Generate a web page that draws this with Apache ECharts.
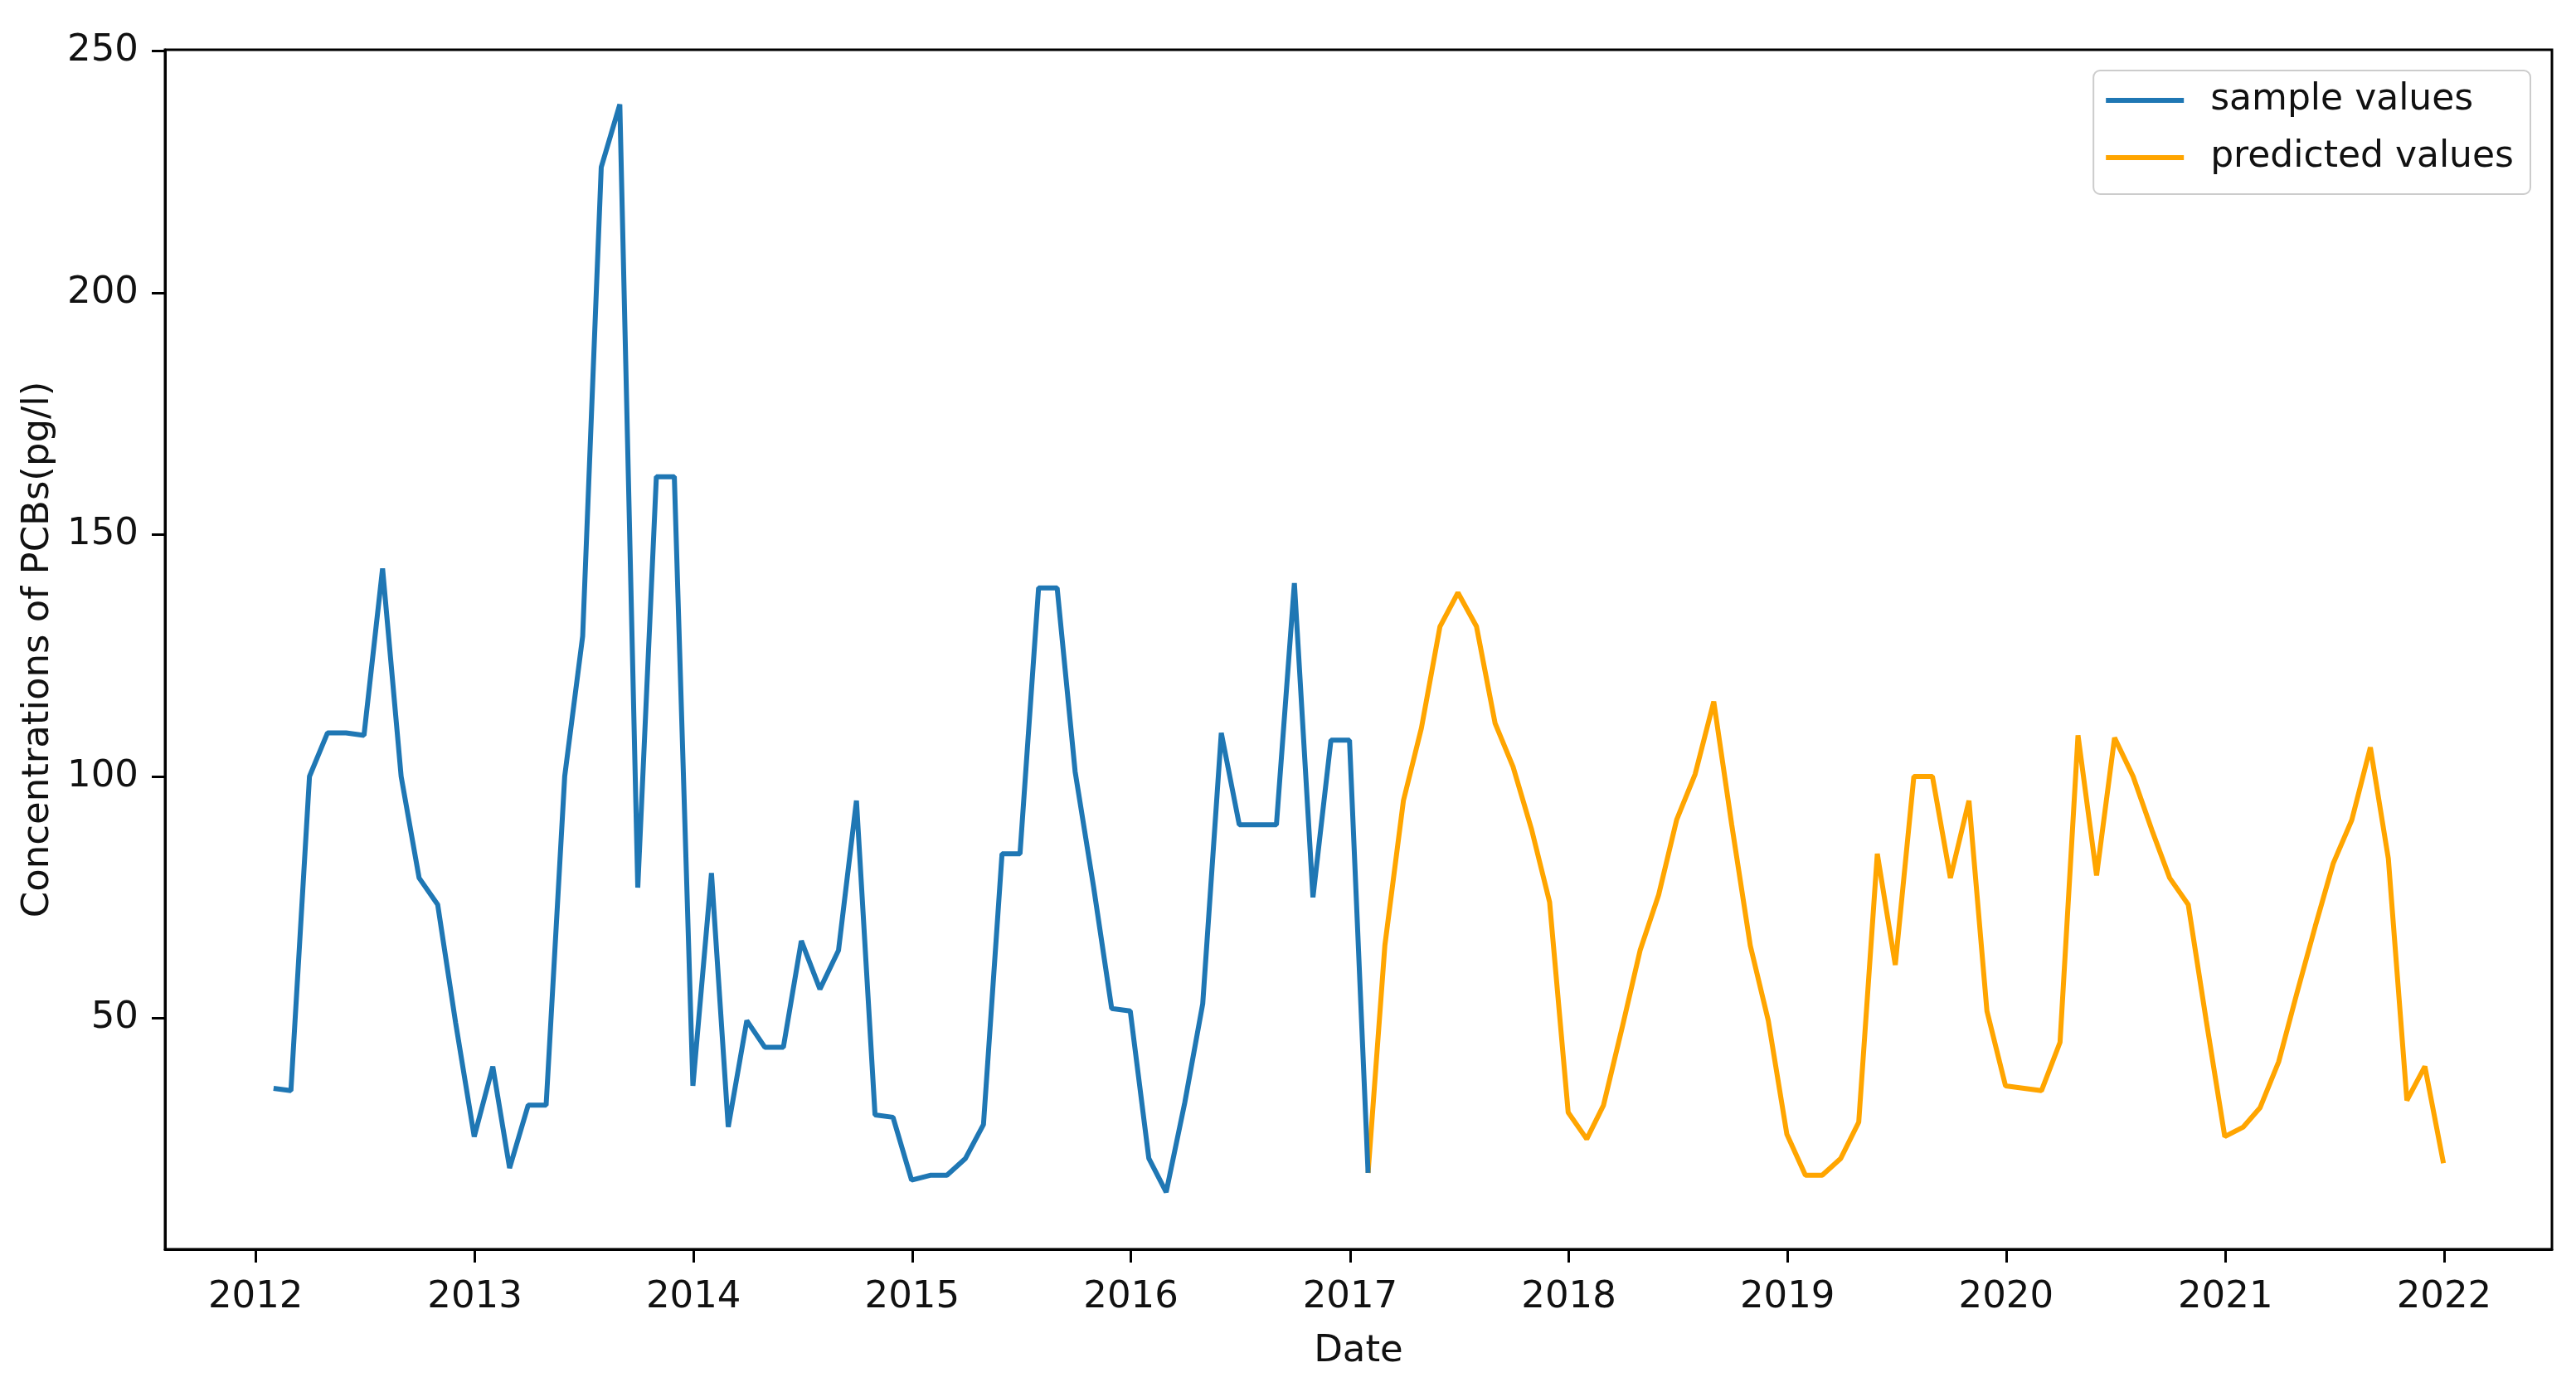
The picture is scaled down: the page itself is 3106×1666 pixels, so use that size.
<!DOCTYPE html>
<html>
<head>
<meta charset="utf-8">
<script src="https://cdn.jsdelivr.net/npm/echarts@6/dist/echarts.min.js"></script>
<style>
  html, body { margin: 0; padding: 0; background: #fff; }
  #chart { width: 3106px; height: 1666px; }
</style>
</head>
<body>
<div id="chart"></div>
<script>
// monthly values, one per month-end
var sampleStart = [2012, 0];   // Jan 2012
var sampleValues = [
  35.5, 35, 100, 109, 109, 108.5, 143, 100, 79, 73.5, 49, 25.5,
  40, 19, 32, 32, 100, 129, 226, 239, 77, 162, 162, 36,
  80, 27.5, 49.5, 44, 44, 66, 56, 64, 95, 30, 29.5, 16.5,
  17.5, 17.5, 21, 28, 84, 84, 139, 139, 101, 77, 52, 51.5,
  21, 14, 32.5, 53, 109, 90, 90, 90, 140, 75, 107.5, 107.5,
  18
];
var predictedStart = [2017, 0]; // Jan 2017
var predictedValues = [
  18, 65, 95, 110, 131, 138, 131, 111, 102, 89, 74, 30.5,
  25, 32, 48, 64, 75.5, 91, 100.5, 115.5, 90, 65, 49.5, 26,
  17.5, 17.5, 21, 28.5, 84, 61, 100, 100, 79, 95, 51.5, 36,
  35.5, 35, 45, 108.5, 79.5, 108, 100, 89, 79, 73.5, 49.5, 25.5,
  27.5, 31.5, 41, 55, 69, 82, 91, 106, 83, 33, 40, 20
];
var yearTicks = [2012, 2013, 2014, 2015, 2016, 2017, 2018, 2019, 2020, 2021, 2022];
var valueTicks = [50, 100, 150, 200, 250];

var seriesNames = ['sample values', 'predicted values'];
var colors = ['#1f77b4', '#ffa500'];
var font = 'DejaVu Sans';

// pair each value with the last day of its month (as a timestamp)
function monthly(start, vals) {
  return vals.map(function (v, i) {
    return [new Date(start[0], start[1] + i + 1, 0).getTime(), v];
  });
}

var sampleData = monthly(sampleStart, sampleValues);
var predData = monthly(predictedStart, predictedValues);

// matplotlib style 5% margins
var t0 = sampleData[0][0];
var t1 = predData[predData.length - 1][0];
var pad = (t1 - t0) * 0.05;
var tickTimes = yearTicks.map(function (y) { return new Date(y, 0, 1).getTime(); });

var myChart = echarts.init(document.getElementById('chart'));
var option = {
  backgroundColor: '#fff',
  animation: false,
  grid: {
    left: 199, right: 29, top: 60, bottom: 160,
    show: true, borderColor: '#000', borderWidth: 3
  },
  legend: {
    orient: 'vertical',
    right: 55,
    top: 85,
    data: seriesNames,
    icon: 'rect',
    itemWidth: 94,
    itemHeight: 6,
    itemGap: 19,
    padding: [11, 20, 19, 15],
    borderColor: '#cccccc',
    borderWidth: 2,
    borderRadius: 8,
    backgroundColor: 'rgba(255,255,255,0.8)',
    textStyle: {
      fontFamily: font, fontSize: 44, color: '#111',
      lineHeight: 50, padding: [0, 0, 0, 27]
    }
  },
  xAxis: {
    type: 'value',
    min: t0 - pad,
    max: t1 + pad,
    name: 'Date',
    nameLocation: 'middle',
    nameGap: 101,
    nameTextStyle: { fontFamily: font, fontSize: 45, color: '#111' },
    axisLine: { lineStyle: { color: '#000', width: 3 } },
    axisTick: { show: true, length: 16, lineStyle: { color: '#000', width: 3 }, customValues: tickTimes },
    axisLabel: {
      fontFamily: font, fontSize: 45, color: '#111', margin: 36,
      customValues: tickTimes,
      formatter: function (v) { return String(new Date(v).getFullYear()); }
    },
    splitLine: { show: false }
  },
  yAxis: {
    type: 'value',
    min: 2.2,
    max: 250.3,
    name: 'Concentrations of PCBs(pg/l)',
    nameLocation: 'middle',
    nameGap: 130,
    nameTextStyle: { fontFamily: font, fontSize: 45, color: '#111' },
    axisLine: { show: true, lineStyle: { color: '#000', width: 3 } },
    axisTick: { show: true, length: 16, lineStyle: { color: '#000', width: 3 }, customValues: valueTicks },
    axisLabel: {
      fontFamily: font, fontSize: 45, color: '#111', margin: 32,
      customValues: valueTicks
    },
    splitLine: { show: false }
  },
  series: [
    {
      name: seriesNames[0],
      type: 'line',
      data: sampleData,
      showSymbol: false,
      symbol: 'none',
      color: colors[0],
      lineStyle: { width: 6, color: colors[0] },
      z: 3
    },
    {
      name: seriesNames[1],
      type: 'line',
      data: predData,
      showSymbol: false,
      symbol: 'none',
      color: colors[1],
      lineStyle: { width: 6, color: colors[1] },
      z: 2
    }
  ]
};
myChart.setOption(option);
window.addEventListener('resize', function () {
  myChart.resize();
});
</script>
</body>
</html>
